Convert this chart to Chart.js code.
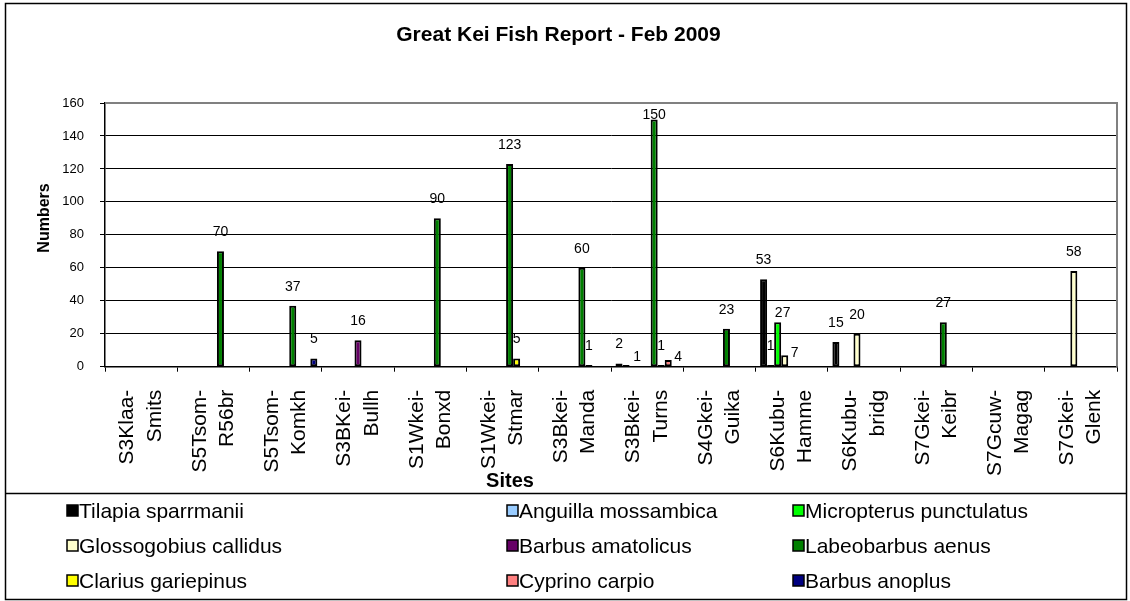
<!DOCTYPE html>
<html>
<head>
<meta charset="utf-8">
<script src="https://cdn.jsdelivr.net/npm/chart.js@4"></script>
<style>
  html, body { margin: 0; padding: 0; background: #fff; }
  #wrap { width: 1130px; height: 601px; }
</style>
</head>
<body>
<div id="wrap"><canvas id="chart-area"></canvas></div>
<script>
// sites, split in two lines as on the original axis
var siteLabels = [
    ['S3Klaa-', 'Smits'],
    ['S5Tsom-', 'R56br'],
    ['S5Tsom-', 'Komkh'],
    ['S3BKei-', 'Bullh'],
    ['S1Wkei-', 'Bonxd'],
    ['S1Wkei-', 'Stmar'],
    ['S3Bkei-', 'Manda'],
    ['S3Bkei-', 'Turns'],
    ['S4Gkei-', 'Guika'],
    ['S6Kubu-', 'Hamme'],
    ['S6Kubu-', 'bridg'],
    ['S7Gkei-', 'Keibr'],
    ['S7Gcuw-', 'Magag'],
    ['S7Gkei-', 'Glenk']
];

var species = [
    'Tilapia sparrmanii',
    'Anguilla mossambica',
    'Micropterus punctulatus',
    'Glossogobius callidus',
    'Barbus amatolicus',
    'Labeobarbus aenus',
    'Clarius gariepinus',
    'Cyprino carpio',
    'Barbus anoplus'
];

var speciesColors = ['#000000', '#99CCFF', '#00FF00', '#FFFFCC', '#660066', '#008000', '#FFFF00', '#FF8080', '#000080'];

// counts per site (null = none caught)
var tilapiaSparrmanii      = [null, null, null, null, null, null, null, 2, null, 53, 15, null, null, null];
var anguillaMossambica     = [null, null, null, null, null, null, null, 1, null, 1, null, null, null, null];
var micropterusPunctulatus = [null, null, null, null, null, null, null, null, null, 27, null, null, null, null];
var glossogobiusCallidus   = [null, null, null, null, null, null, null, null, null, 7, 20, null, null, 58];
var barbusAmatolicus       = [null, null, null, 16, null, null, null, null, null, null, null, null, null, null];
var labeobarbusAenus       = [null, 70, 37, null, 90, 123, 60, 150, 23, null, null, 27, null, null];
var clariusGariepinus      = [null, null, null, null, null, 5, 1, 1, null, null, null, null, null, null];
var cyprinoCarpio          = [null, null, null, null, null, null, null, 4, null, null, null, null, null, null];
var barbusAnoplus          = [null, null, 5, null, null, null, null, null, null, null, null, null, null, null];

var seriesData = [tilapiaSparrmanii, anguillaMossambica, micropterusPunctulatus, glossogobiusCallidus,
    barbusAmatolicus, labeobarbusAenus, clariusGariepinus, cyprinoCarpio, barbusAnoplus];

var yTicks = [0, 20, 40, 60, 80, 100, 120, 140, 160];

var fontFamily = '"Liberation Sans", Arial, sans-serif';

// a few value labels were moved aside in the original to avoid overlaps
var labelNudges = { '1:7': [11, 11], '7:7': [10, 16], '3:9': [10, 17], '2:9': [5, 10] };

var datasets = species.map(function(name, k) {
    return {
        label: name,
        data: seriesData[k],
        backgroundColor: speciesColors[k],
        borderColor: '#000000',
        borderWidth: 2,
        borderSkipped: false,
        categoryPercentage: 0.875,
        barPercentage: 1.0
    };
});

var decor = {
    id: 'decor',
    beforeDatasetsDraw: function(chart) {
        var ctx = chart.ctx, a = chart.chartArea;
        ctx.save();
        ctx.strokeStyle = '#808080';
        ctx.lineWidth = 2;
        ctx.beginPath();
        ctx.moveTo(a.left, a.top);
        ctx.lineTo(a.right, a.top);
        ctx.lineTo(a.right, a.bottom);
        ctx.stroke();
        ctx.restore();
    },
    afterDatasetsDraw: function(chart) {
        var ctx = chart.ctx, a = chart.chartArea;
        ctx.save();
        ctx.font = '14px ' + fontFamily;
        ctx.fillStyle = '#000';
        ctx.textAlign = 'center';
        ctx.textBaseline = 'middle';
        chart.data.datasets.forEach(function(ds, di) {
            chart.getDatasetMeta(di).data.forEach(function(bar, i) {
                var v = ds.data[i];
                if (v === null) return;
                var x = bar.x, y = Math.max(bar.y - 19, a.top + 12);
                var n = labelNudges[di + ':' + i];
                if (n) { x += n[0]; y += n[1]; }
                ctx.fillText(String(v), x, y);
            });
        });
        ctx.restore();
    },
    afterDraw: function(chart) {
        var ctx = chart.ctx;
        ctx.save();
        ctx.fillStyle = '#000';
        ctx.textAlign = 'center';
        ctx.textBaseline = 'middle';
        // axis titles
        ctx.font = 'bold 20px ' + fontFamily;
        ctx.fillText('Sites', 510, 481);
        ctx.save();
        ctx.translate(45, 218);
        ctx.rotate(-Math.PI / 2);
        ctx.font = 'bold 16px ' + fontFamily;
        ctx.fillText('Numbers', 0, 0);
        ctx.restore();

        // legend, three columns
        var colX = [67, 507, 793], rowY = [511, 546, 581];
        ctx.font = '21px ' + fontFamily;
        ctx.textAlign = 'left';
        chart.data.datasets.forEach(function(ds, k) {
            var x = colX[k % 3], y = rowY[Math.floor(k / 3)];
            ctx.fillStyle = ds.backgroundColor;
            ctx.fillRect(x, y - 6, 11, 11);
            ctx.strokeStyle = '#000';
            ctx.lineWidth = 1.5;
            ctx.strokeRect(x, y - 6, 11, 11);
            ctx.fillStyle = '#000';
            ctx.fillText(ds.label, x + 12, y + 1);
        });

        // chart frame and legend separator
        ctx.strokeStyle = '#000';
        ctx.lineWidth = 1.5;
        ctx.strokeRect(5.5, 3.5, 1121, 596);
        ctx.beginPath();
        ctx.moveTo(5.5, 493.5);
        ctx.lineTo(1126.5, 493.5);
        ctx.stroke();
        ctx.restore();
    }
};

var config = {
    type: 'bar',
    data: {
        labels: siteLabels,
        datasets: datasets
    },
    options: {
        responsive: true,
        maintainAspectRatio: false,
        animation: false,
        layout: {
            padding: { left: 0, top: 0, right: 13, bottom: 108 }
        },
        plugins: {
            legend: { display: false },
            tooltip: { enabled: false },
            title: {
                display: true,
                text: 'Great Kei Fish Report - Feb 2009',
                color: '#000',
                font: { family: fontFamily, size: 21, weight: 'bold', lineHeight: 1.2 },
                padding: { top: 22.4, bottom: 55.4 }
            }
        },
        scales: {
            x: {
                grid: {
                    display: true,
                    drawOnChartArea: false,
                    drawTicks: true,
                    tickLength: 5,
                    color: '#000',
                    offset: true
                },
                border: { display: true, color: '#000', width: 1.5 },
                ticks: {
                    autoSkip: false,
                    minRotation: 90,
                    maxRotation: 90,
                    padding: 18,
                    labelOffset: -13.5,
                    color: '#000',
                    font: { family: fontFamily, size: 21, lineHeight: 1.3 }
                },
                afterFit: function(scale) {
                    scale.height = 126.3;
                    scale.paddingLeft = 0;
                    scale.paddingRight = 0;
                }
            },
            y: {
                min: 0,
                max: 160,
                afterBuildTicks: function(scale) {
                    scale.ticks = yTicks.map(function(v) { return { value: v }; });
                },
                grid: {
                    color: function(c) { return c.tick && c.tick.value === 160 ? 'rgba(0,0,0,0)' : '#000'; },
                    tickColor: '#000',
                    tickLength: 5,
                    lineWidth: 1
                },
                border: { display: true, color: '#000', width: 1.5 },
                ticks: {
                    padding: 16,
                    color: '#000',
                    font: { family: fontFamily, size: 13 }
                },
                afterFit: function(scale) { scale.width = 105; }
            }
        }
    },
    plugins: [decor]
};

window.onload = function() {
    var ctx = document.getElementById('chart-area').getContext('2d');
    window.fishChart = new Chart(ctx, config);
};
</script>
</body>
</html>
